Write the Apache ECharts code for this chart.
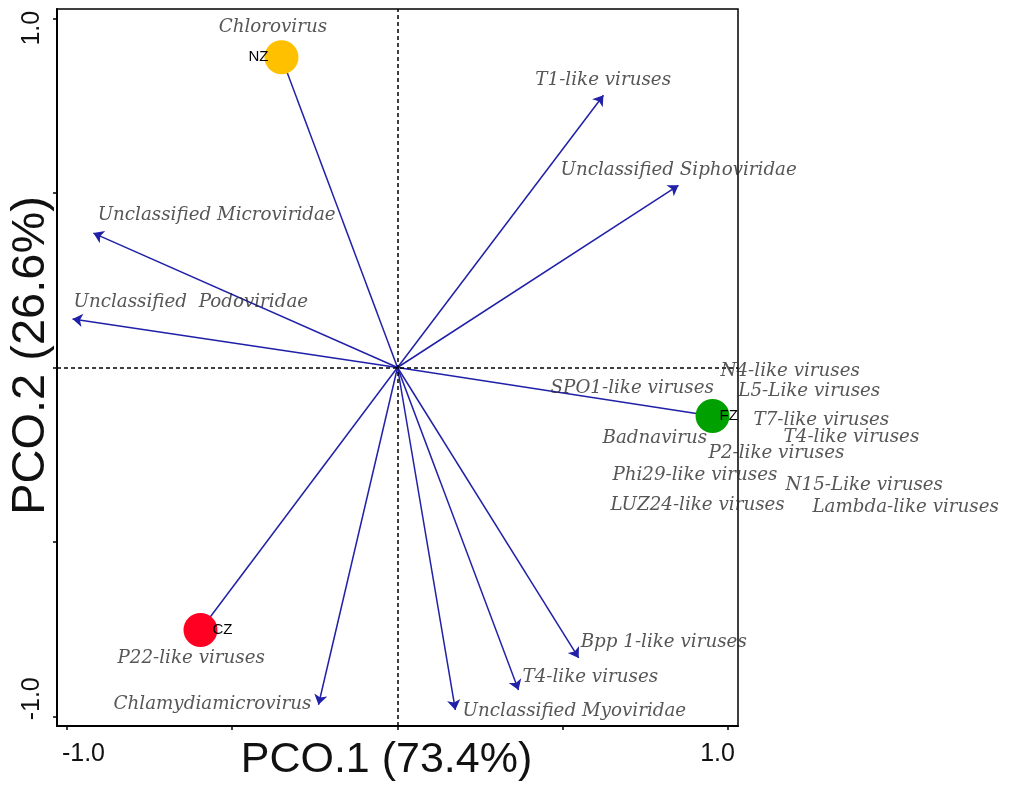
<!DOCTYPE html>
<html><head><meta charset="utf-8">
<script src="https://cdn.jsdelivr.net/npm/echarts@6/dist/echarts.min.js"></script>
<style>html,body{margin:0;padding:0;background:#fff}#c{width:1016px;height:787px}</style>
</head><body><div id="c"></div>
<script>
// Arrow (vector) endpoints in PCO space
const arrowNames = ['T1-like viruses','Unclassified Siphoviridae','Unclassified Microviridae','Unclassified  Podoviridae','Chlamydiamicrovirus','Unclassified Myoviridae','T4-like viruses','Bpp 1-like viruses'];
const arrowX = [0.623, 0.850, -0.920, -0.983, -0.239, 0.175, 0.366, 0.548];
const arrowY = [0.780, 0.522, 0.385, 0.139, -0.966, -0.981, -0.924, -0.832];

// Sites
const siteNames = ['NZ','FZ','CZ'];
const siteX = [-0.351, 0.953, -0.596];
const siteY = [0.889, -0.139, -0.752];
const siteColors = ['#FFC000','#00A000','#FF0022'];

// Text annotations (left anchor, data coords)
const labelTexts = ['Chlorovirus','T1-like viruses','Unclassified Siphoviridae','Unclassified Microviridae','Unclassified  Podoviridae','N4-like viruses','SPO1-like viruses','L5-Like viruses','T7-like viruses','Badnavirus','T4-like viruses','P2-like viruses','Phi29-like viruses','N15-Like viruses','LUZ24-like viruses','Lambda-like viruses','P22-like viruses','Chlamydiamicrovirus','Bpp 1-like viruses','T4-like viruses','Unclassified Myoviridae'];
const labelX = [-0.541,0.417,0.493,-0.907,-0.980,0.977,0.463,1.031,1.077,0.620,1.168,0.941,0.650,1.174,0.644,1.255,-0.847,-0.859,0.554,0.378,0.197];
const labelY = [0.975,0.823,0.566,0.437,0.186,-0.010,-0.059,-0.067,-0.150,-0.202,-0.199,-0.245,-0.310,-0.336,-0.394,-0.400,-0.832,-0.966,-0.786,-0.886,-0.986];

const tickValues = [-1, -0.5, 0, 0.5, 1];
const xTickLabels = ['-1.0','1.0'];
const yTickLabels = ['1.0','-1.0'];
const xLabelPos = [-0.95, 0.968];
const yLabelPos = [0.972, -0.949];

const chart = echarts.init(document.getElementById('c'));
const arrowColor = '#2020a8';

const arrowData = arrowNames.map((n,i)=>({name:n, coords:[[0,0],[arrowX[i],arrowY[i]]]}));
const siteLineData = siteNames.map((n,i)=>({name:n, coords:[[0,0],[siteX[i],siteY[i]]]}));

chart.setOption({
  animation:false,
  backgroundColor:'#fff',
  grid:{left:57, top:9, width:681, height:717, containLabel:false, outerBoundsMode:'none', show:true, borderColor:'#000', borderWidth:1.5, backgroundColor:'transparent'},
  xAxis:{type:'value', min:-1.03, max:1.03,
    splitLine:{show:false},
    axisLine:{onZero:false, lineStyle:{color:'#000', width:2}},
    axisTick:{customValues:tickValues, length:4, lineStyle:{color:'#000', width:1.5}},
    axisLabel:{customValues:xLabelPos, formatter:(v)=> v<0?xTickLabels[0]:xTickLabels[1], fontFamily:'Liberation Sans, Arial', fontSize:25, color:'#111', margin:16},
    name:'PCO.1 (73.4%)', nameLocation:'middle', nameGap:34, nameMoveOverlap:false,
    nameTextStyle:{fontFamily:'Liberation Sans, Arial', fontSize:43, color:'#111', verticalAlign:'middle', padding:[0,22,0,0]}
  },
  yAxis:{type:'value', min:-1.027, max:1.027,
    splitLine:{show:false},
    axisLine:{onZero:false, lineStyle:{color:'#000', width:2}},
    axisTick:{customValues:tickValues, length:4, lineStyle:{color:'#000', width:1.5}},
    axisLabel:{customValues:yLabelPos, rotate:90, formatter:(v)=> v>0?yTickLabels[0]:yTickLabels[1], fontFamily:'Liberation Sans, Arial', fontSize:25, color:'#111', margin:12},
    name:'PCO.2 (26.6%)', nameLocation:'middle', nameGap:26, nameMoveOverlap:false,
    nameTextStyle:{fontFamily:'Liberation Sans, Arial', fontSize:47, color:'#111', verticalAlign:'middle', padding:[0,0,0,24]}
  },
  series:[
    {type:'scatter', data:[], silent:true,
      markLine:{silent:true, symbol:['none','none'], label:{show:false},
        lineStyle:{color:'#000', type:[4,3], width:1.5},
        data:[{xAxis:0},{yAxis:0}]}},
    {type:'lines', coordinateSystem:'cartesian2d', polyline:false, silent:true,
      symbol:['none','arrow'], symbolSize:10,
      lineStyle:{color:arrowColor, width:1.5, opacity:1},
      data:arrowData, z:3},
    {type:'lines', coordinateSystem:'cartesian2d', polyline:false, silent:true,
      symbol:['none','none'],
      lineStyle:{color:arrowColor, width:1.5, opacity:1},
      data:siteLineData, z:3},
    {type:'scatter', symbolSize:34, silent:true, z:5,
      data: siteNames.map((n,i)=>({name:n, value:[siteX[i],siteY[i]], itemStyle:{color:siteColors[i], opacity:1},
        label:{show:true, formatter:n, position: i===0?'left':'right', distance: i===0?-4:(i===1?-10:-5),
          fontFamily:'Liberation Sans, Arial', fontSize:15, color:'#000'}}))
    },
    {type:'scatter', symbolSize:0, silent:true, clip:false, z:6,
      data: labelTexts.map((t,i)=>({name:t, value:[labelX[i],labelY[i]]})),
      label:{show:true, formatter:(p)=>p.name, position:'inside', align:'left', verticalAlign:'middle',
        fontFamily:'DejaVu Serif', fontStyle:'italic', fontSize:18.3, color:'#2c2c2c'}
    }
  ]
});
</script></body></html>
